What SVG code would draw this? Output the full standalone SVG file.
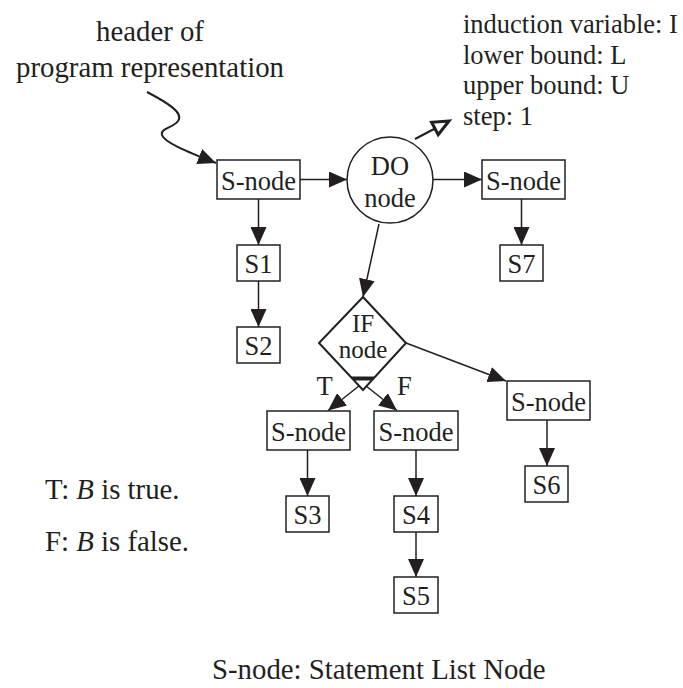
<svg xmlns="http://www.w3.org/2000/svg" width="683" height="688" viewBox="0 0 683 688">
<style>
text{font-family:"Liberation Serif","Times New Roman",serif;fill:#231f20}
.n{font-size:26.5px;text-anchor:middle}
.ifn{font-size:25px;text-anchor:middle}
.big{font-size:28.8px}
.ann{font-size:26.5px}
.box{fill:#fff;stroke:#231f20;stroke-width:1.5}
.ln{fill:none;stroke:#231f20;stroke-width:1.5}
</style>
<defs>
<marker id="ah" markerUnits="userSpaceOnUse" markerWidth="18" markerHeight="16" refX="18" refY="8" orient="auto"><path d="M0,0 L18,8 L0,16 z" fill="#231f20"/></marker>
</defs>
<rect width="683" height="688" fill="#fff"/>
<g id="header">
<text class="big" x="150" y="41" text-anchor="middle">header of</text>
<text class="big" x="150" y="77" text-anchor="middle">program representation</text>
</g>
<g id="annotation">
<text class="ann" x="463" y="33">induction variable: I</text>
<text class="ann" x="463" y="63.5">lower bound: L</text>
<text class="ann" x="463" y="94">upper bound: U</text>
<text class="ann" x="463" y="124.5">step: 1</text>
</g>
<g id="connectors">
<path class="ln" d="M147,92 C168,103 184,113 178,121 C173,128 160,128 162,135 C164,142 185,151 216,163" style="stroke-width:2" marker-end="url(#ah)"/>
<line class="ln" x1="300" y1="179.5" x2="347" y2="179.5" marker-end="url(#ah)"/>
<line class="ln" x1="433" y1="179.5" x2="482" y2="179.5" marker-end="url(#ah)"/>
<line class="ln" x1="258.5" y1="199" x2="258.5" y2="245" marker-end="url(#ah)"/>
<line class="ln" x1="258.5" y1="281" x2="258.5" y2="327" marker-end="url(#ah)"/>
<line class="ln" x1="521.5" y1="199" x2="521.5" y2="245" marker-end="url(#ah)"/>
<line class="ln" x1="379" y1="224" x2="363" y2="297" marker-end="url(#ah)"/>
<line class="ln" x1="415" y1="139" x2="435" y2="128.5" style="stroke-width:2"/>
<polygon points="449,121 438.2,134.7 431.6,122.3" fill="#fff" stroke="#231f20" stroke-width="3" stroke-linejoin="miter"/>
<line class="ln" x1="406" y1="343" x2="506" y2="381" marker-end="url(#ah)"/>
<line class="ln" x1="369" y1="378" x2="328" y2="410.5" marker-end="url(#ah)"/>
<line class="ln" x1="356" y1="378" x2="397" y2="410.5" marker-end="url(#ah)"/>
<line class="ln" x1="307.5" y1="450" x2="307.5" y2="496" marker-end="url(#ah)"/>
<line class="ln" x1="416" y1="450" x2="416" y2="496" marker-end="url(#ah)"/>
<line class="ln" x1="416" y1="532" x2="416" y2="577" marker-end="url(#ah)"/>
<line class="ln" x1="547" y1="420" x2="547" y2="466" marker-end="url(#ah)"/>
</g>
<g id="snode-top"><rect class="box" x="217" y="160" width="83" height="39"/><text class="n" x="258.5" y="190">S-node</text></g>
<g id="do-node"><circle cx="390" cy="180" r="43" fill="#fff" stroke="#231f20" stroke-width="1.5"/><text class="n" x="390" y="175">DO</text><text class="n" x="390" y="207">node</text></g>
<g id="snode-do"><rect class="box" x="482" y="160" width="83" height="39"/><text class="n" x="523.5" y="190">S-node</text></g>
<g id="s1"><rect class="box" x="237" y="245" width="43" height="36"/><text class="n" x="258.5" y="273">S1</text></g>
<g id="s2"><rect class="box" x="237" y="327" width="43" height="36"/><text class="n" x="258.5" y="355">S2</text></g>
<g id="s7"><rect class="box" x="500" y="245" width="43" height="36"/><text class="n" x="521.5" y="273">S7</text></g>
<g id="if-node">
<polygon points="363,297 406,343 363,390 319,343" fill="#fff" stroke="#231f20" stroke-width="2"/>
<polygon points="350.5,376.5 375.5,376.5 371.8,380.5 354.2,380.5" fill="#231f20"/>
<text class="ifn" x="363" y="332">IF</text><text class="ifn" x="363" y="358">node</text>
</g>
<g id="labels-tf"><text class="ann" x="316.5" y="395">T</text><text class="ann" x="397" y="395">F</text></g>
<g id="snode-t"><rect class="box" x="267" y="411" width="83" height="39"/><text class="n" x="308.5" y="441">S-node</text></g>
<g id="snode-f"><rect class="box" x="374" y="411" width="84" height="39"/><text class="n" x="416" y="441">S-node</text></g>
<g id="snode-r"><rect class="box" x="507" y="381" width="83" height="39"/><text class="n" x="548.5" y="411">S-node</text></g>
<g id="s3"><rect class="box" x="286" y="496" width="43" height="36"/><text class="n" x="307.5" y="524">S3</text></g>
<g id="s4"><rect class="box" x="394" y="496" width="44" height="36"/><text class="n" x="416" y="524">S4</text></g>
<g id="s5"><rect class="box" x="394" y="577" width="44" height="36"/><text class="n" x="416" y="605">S5</text></g>
<g id="s6"><rect class="box" x="525" y="466" width="43" height="36"/><text class="n" x="546.5" y="494">S6</text></g>
<g id="legend">
<text class="big" x="45" y="499">T: <tspan font-style="italic">B</tspan> is true.</text>
<text class="big" x="45" y="551">F: <tspan font-style="italic">B</tspan> is false.</text>
</g>
<g id="footer"><text class="big" x="212" y="679">S-node: Statement List Node</text></g>
</svg>
